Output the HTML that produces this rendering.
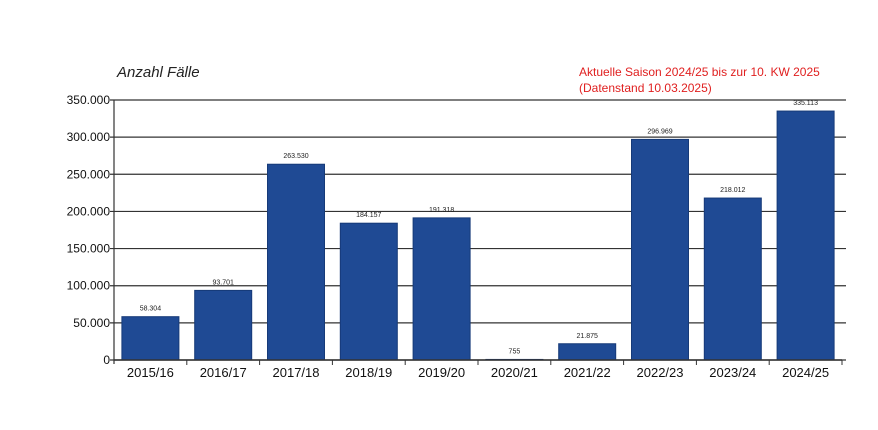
<!DOCTYPE html>
<html><head><meta charset="utf-8"><style>
body{margin:0;background:#fff;width:878px;height:430px;overflow:hidden}
svg{display:block}
</style></head><body>
<svg id="chart" width="878" height="430" xmlns="http://www.w3.org/2000/svg" font-family="Liberation Sans, sans-serif">
<text x="117" y="77" font-size="15" font-style="italic" fill="#222">Anzahl Fälle</text>
<text x="579" y="76" font-size="12" fill="#e02020">Aktuelle Saison 2024/25 bis zur 10. KW 2025</text>
<text x="579" y="92" font-size="12" fill="#e02020">(Datenstand 10.03.2025)</text>
<g id="grid"></g><g id="bars"></g><g id="axes"></g>
</svg>
<script>
const categories=["2015/16","2016/17","2017/18","2018/19","2019/20","2020/21","2021/22","2022/23","2023/24","2024/25"];
const values=[58304,93701,263530,184157,191318,755,21875,296969,218012,335113];
const valueLabels=["58.304","93.701","263.530","184.157","191.318","755","21.875","296.969","218.012","335.113"];
const yTicks=[0,50000,100000,150000,200000,250000,300000,350000];
const yTickLabels=["0","50.000","100.000","150.000","200.000","250.000","300.000","350.000"];
const NS="http://www.w3.org/2000/svg";
const x0=114,x1=842,y0=360,y1=100,yMax=350000;
const y=v=>y0-(v/yMax)*(y0-y1);
const bw=(x1-x0)/categories.length;
const xc=i=>x0+bw*(i+0.5);
function mk(t,a,p){const e=document.createElementNS(NS,t);for(const k in a)e.setAttribute(k,a[k]);p.appendChild(e);return e;}
const grid=document.getElementById('grid'),bars=document.getElementById('bars'),axes=document.getElementById('axes');
yTicks.forEach((v,i)=>{
 const l=mk('line',{x1:x0-4,x2:x1+4,y1:y(v),y2:y(v),stroke:'#333','stroke-width':1.2},grid);
 
 
 const t=mk('text',{x:x0-4,y:y(v)+4,'font-size':12,'text-anchor':'end',fill:'#111'},axes);
 t.textContent=yTickLabels[i];
 
 
});
categories.forEach((c,i)=>{
 const w=57,top=y(values[i]);
 const r=mk('rect',{x:xc(i)-w/2,y:top,width:w,height:y0-top,fill:'#1f4a94',stroke:'#163a78','stroke-width':1},bars);
 
 
 const vl=mk('text',{x:xc(i),y:top-6,'font-size':7,'text-anchor':'middle',fill:'#222'},bars);
 vl.textContent=valueLabels[i];
 
 
 const t=mk('text',{x:xc(i),y:y0+17,'font-size':13,'text-anchor':'middle',fill:'#111'},axes);
 t.textContent=c;
 
 
 const tk=mk('line',{x1:x0+bw*(i+1),x2:x0+bw*(i+1),y1:y0,y2:y0+5,stroke:'#333'},axes);
 
 
});
const ya=mk('line',{x1:x0,x2:x0,y1:y1,y2:y0+4,stroke:'#333','stroke-width':1.2},axes);


const xa=mk('line',{x1:x0,x2:x1,y1:y0,y2:y0,stroke:'#333','stroke-width':1.5},axes);


</script>
</body></html>
